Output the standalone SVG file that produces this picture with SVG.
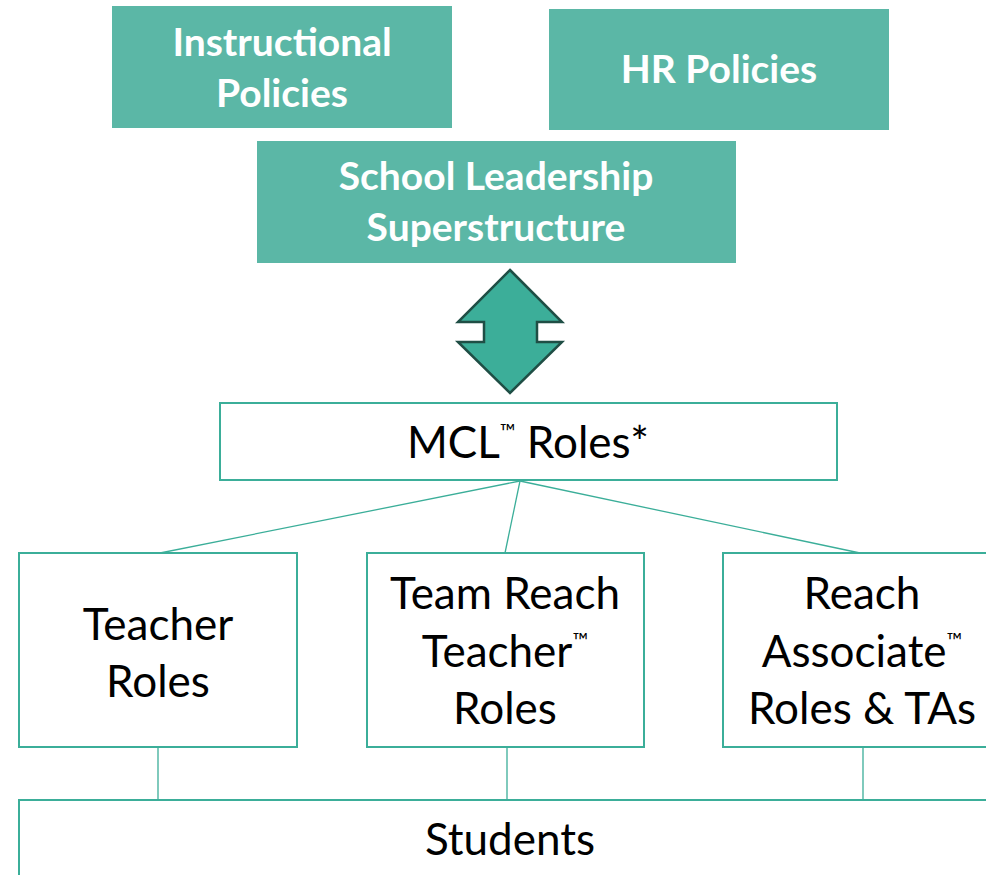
<svg xmlns="http://www.w3.org/2000/svg" width="986" height="875" viewBox="0 0 986 875">
  <style>
    .top rect { fill: #5bb7a6; }
    .top text { fill: #ffffff; font-family: Lato, "Open Sans", sans-serif; font-weight: bold; font-size: 39px; text-anchor: middle; }
    .box rect { fill: #ffffff; stroke: #3bae99; stroke-width: 2; }
    .box text { fill: #000000; font-family: Lato, "Open Sans", sans-serif; font-size: 44px; text-anchor: middle; }
    .tm { font-size: 21px; }
    .conn line { stroke: #3bae99; stroke-width: 1.3; }
  </style>
  <rect width="986" height="875" fill="#ffffff"/>

  <!-- policy and leadership blocks -->
  <g id="instructional-policies" class="top">
    <rect x="112" y="6" width="340" height="122"/>
    <text x="282" y="56">Instructional</text>
    <text x="282" y="107">Policies</text>
  </g>
  <g id="hr-policies" class="top">
    <rect x="549" y="9" width="340" height="121"/>
    <text x="719" y="83">HR Policies</text>
  </g>
  <g id="school-leadership" class="top">
    <rect x="257" y="141" width="479" height="122"/>
    <text x="496" y="190">School Leadership</text>
    <text x="496" y="241">Superstructure</text>
  </g>

  <!-- two-way arrow between leadership and roles -->
  <g id="double-arrow">
    <path d="M510,270 L562,322 L537,322 L537,342 L562,342 L510,393 L458,342 L484,342 L484,322 L458,322 Z" fill="#3cae99" stroke="#1f4e45" stroke-width="2.5" stroke-linejoin="miter"/>
  </g>

  <g id="connectors" class="conn">
    <line x1="520" y1="481" x2="160" y2="553"/>
    <line x1="520" y1="481" x2="505" y2="553"/>
    <line x1="520" y1="481" x2="860" y2="553"/>
    <line x1="158" y1="747" x2="158" y2="800"/>
    <line x1="507" y1="747" x2="507" y2="800"/>
    <line x1="863" y1="747" x2="863" y2="800"/>
  </g>

  <g id="mcl-roles" class="box">
    <rect x="220" y="403" width="617" height="77"/>
    <text x="528" y="458">MCL<tspan class="tm" dy="-19">™</tspan><tspan dy="19"> Roles*</tspan></text>
  </g>
  <g id="teacher-roles" class="box">
    <rect x="19" y="553" width="278" height="194"/>
    <text x="158" y="640">Teacher</text>
    <text x="158" y="697">Roles</text>
  </g>
  <g id="team-reach-teacher-roles" class="box">
    <rect x="367" y="553" width="277" height="194"/>
    <text x="505" y="609">Team Reach</text>
    <text x="505" y="667">Teacher<tspan class="tm" dy="-19">™</tspan></text>
    <text x="505" y="724">Roles</text>
  </g>
  <g id="reach-associate-roles" class="box">
    <rect x="723" y="553" width="280" height="194"/>
    <text x="862" y="609">Reach</text>
    <text x="862" y="667">Associate<tspan class="tm" dy="-19">™</tspan></text>
    <text x="862" y="724">Roles &amp; TAs</text>
  </g>
  <g id="students" class="box">
    <rect x="19" y="800" width="990" height="100"/>
    <text x="510" y="855">Students</text>
  </g>
</svg>
